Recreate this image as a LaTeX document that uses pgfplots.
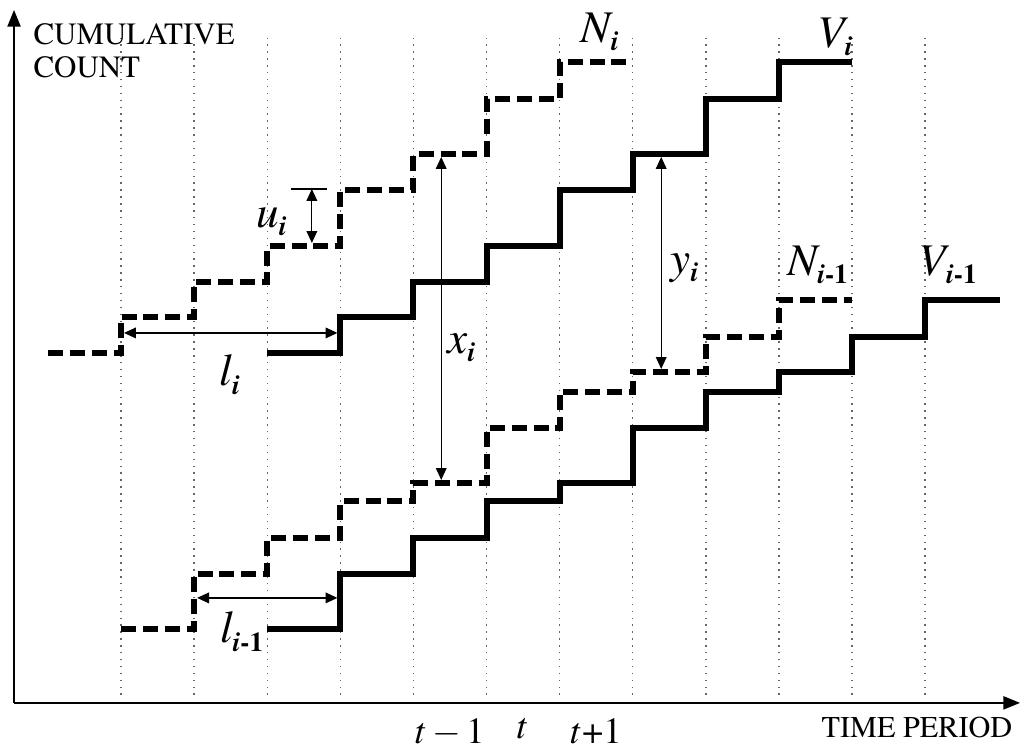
\documentclass[border=0pt]{standalone}
\usepackage[T1]{fontenc}
\usepackage{mathptmx}
\usepackage{pgfplots}
\pgfplotsset{compat=1.18}
\usetikzlibrary{arrows.meta}
\newcommand{\lab}[2]{{\fontsize{19}{19}\selectfont\itshape #1}\raisebox{-3.5pt}{\fontsize{11.5}{11.5}\selectfont\bfseries #2}}
\begin{document}
\begin{tikzpicture}
\begin{axis}[
  scale only axis, width=422.5pt, height=291pt,
  xmin=-0.465, xmax=13.3, ymin=0, ymax=693,
  axis lines=left,
  axis line style={line width=0.8pt, -{Triangle[length=7pt,width=5.5pt]}},
  xtick={5.5,6.5,7.5},
  xticklabels={$t-1$, $t$, {$t$+1}},
  ytick=\empty,
  major tick length=0pt,
  x tick label style={font=\fontsize{15.5}{15.5}\selectfont, yshift=-3pt},
  clip=false,
]
% vertical dotted guides
\pgfplotsinvokeforeach{1,...,12}{
  \draw[black!60, line width=0.6pt, dash pattern=on 0.6pt off 2.3pt] (axis cs:#1,8) -- (axis cs:#1,665);
}
% N_i (dashed)
\addplot[const plot, line width=2.5pt, dash pattern=on 6.3pt off 2.9pt] coordinates {
  (0,350) (1,386) (2,421) (3,457) (4,513) (5,549) (6,604) (7,641) (8,641)};
% V_i (solid)
\addplot[const plot, line width=2.5pt] coordinates {
  (3,350) (4,386) (5,421) (6,457) (7,513) (8,549) (9,604) (10,641) (11,641)};
% N_{i-1} (dashed)
\addplot[const plot, line width=2.5pt, dash pattern=on 6.3pt off 2.9pt] coordinates {
  (1,74) (2,129) (3,165) (4,202) (5,220) (6,275) (7,311) (8,331) (9,366) (10,403) (11,403)};
% V_{i-1} (solid)
\addplot[const plot, line width=2.5pt] coordinates {
  (3,74) (4,129) (5,165) (6,202) (7,220) (8,275) (9,311) (10,331) (11,366) (12,403) (13.02,403)};
% annotation arrows
\tikzset{ann/.style={line width=0.5pt, {Triangle[length=5pt,width=4.5pt]}-{Triangle[length=5pt,width=4.5pt]}}}
\draw[ann] (axis cs:1.04,370) -- (axis cs:3.96,370);
\draw[ann] (axis cs:2.04,105) -- (axis cs:3.96,105);
\draw[line width=0.5pt] (axis cs:3.32,514) -- (axis cs:3.82,514);
\draw[ann] (axis cs:3.61,514) -- (axis cs:3.61,460);
\draw[ann] (axis cs:5.38,546) -- (axis cs:5.38,223);
\draw[ann] (axis cs:8.39,546) -- (axis cs:8.39,334);
% labels
\node at (axis cs:2.49,328) {\lab{l}{\itshape i}};
\node at (axis cs:3.06,481) {\lab{u}{\itshape i}};
\node at (axis cs:5.66,355) {\lab{x}{\itshape i}};
\node at (axis cs:8.71,435) {\lab{y}{\itshape i}};
\node at (axis cs:2.65,71) {\lab{l}{{\itshape i}-1}};
\node at (axis cs:7.55,671) {\lab{N}{\itshape i}};
\node at (axis cs:10.77,666) {\lab{V}{\itshape i}};
\node at (axis cs:10.53,438) {\lab{N}{{\itshape i}-1}};
\node at (axis cs:12.31,438) {\lab{V}{{\itshape i}-1}};
\node[anchor=north west, inner sep=0pt, align=left, font=\fontsize{13}{14}\selectfont] at (axis cs:-0.205,680) {CUMULATIVE\\COUNT};
\node[anchor=north east, inner sep=0pt, font=\fontsize{12.7}{13}\selectfont] at (axis cs:13.2,-14) {TIME PERIOD};
\path (axis cs:-0.657,-45) rectangle (axis cs:13.34,703);
\end{axis}
\end{tikzpicture}
\end{document}
